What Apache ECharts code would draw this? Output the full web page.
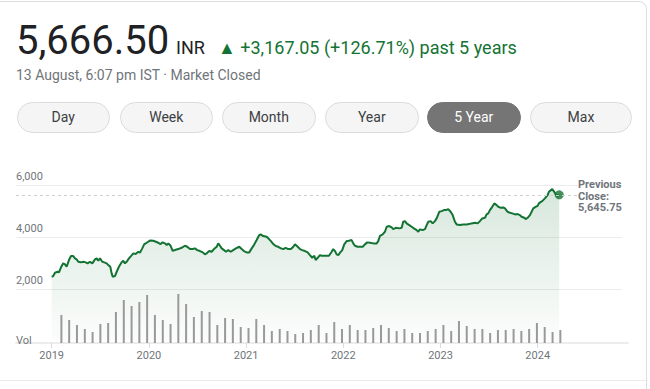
<!DOCTYPE html>
<html>
<head>
<meta charset="utf-8">
<script src="https://cdn.jsdelivr.net/npm/echarts@6/dist/echarts.min.js"></script>
<style>
  html, body { margin:0; padding:0; background:#fff; width:650px; height:389px; overflow:hidden; font-family: Roboto, Arial, sans-serif; }
  #card { position:absolute; left:-10px; top:1px; width:657px; height:420px; border:1px solid #dadce0; border-radius:8px; background:#fff; box-sizing:border-box; }
  #sep { position:absolute; left:0; top:380px; width:648px; height:1px; background:#ebebeb; }
  .t { position:absolute; white-space:nowrap; }
  #price { left:16px; top:21px; font-size:40px; line-height:40px; color:#202124; }
  #cur { left:176px; top:38px; font-size:18px; line-height:20px; color:#202124; }
  #chg { left:218px; top:38px; font-size:18px; line-height:20px; color:#137333; }
  #date { left:16px; top:67px; font-size:14px; line-height:16px; color:#70757a; }
  .btn { position:absolute; top:102px; height:31px; box-sizing:border-box; border:1px solid #dadce0; border-radius:16px; background:#f5f5f5; color:#3c4043; font-size:14px; line-height:29px; text-align:center; }
  .btn.on { background:#757575; border-color:#757575; color:#fff; }
  #chart { position:absolute; left:0; top:0; width:650px; height:389px; }
</style>
</head>
<body>
<div id="card"></div>
<div id="sep"></div>
<div class="t" id="price">5,666.50</div>
<div class="t" id="cur">INR</div>
<div class="t" id="chg">▲ +3,167.05 (+126.71%) past 5 years</div>
<div class="t" id="date">13 August, 6:07 pm IST · Market Closed</div>
<div class="btn" style="left:16.5px;width:93.5px">Day</div>
<div class="btn" style="left:119.5px;width:93.5px">Week</div>
<div class="btn" style="left:222px;width:93.5px">Month</div>
<div class="btn" style="left:325px;width:93.5px">Year</div>
<div class="btn on" style="left:427px;width:93.5px">5 Year</div>
<div class="btn" style="left:530px;width:102px">Max</div>
<div id="chart"></div>
<script>
// ---- data ----
const priceDates = [2019.000,2019.016,2019.034,2019.062,2019.075,2019.096,2019.119,2019.137,2019.154,2019.178,
2019.199,2019.222,2019.240,2019.257,2019.274,2019.301,2019.325,2019.350,2019.370,2019.394,
2019.418,2019.446,2019.463,2019.479,2019.497,2019.521,2019.541,2019.566,2019.582,2019.603,
2019.617,2019.628,2019.651,2019.669,2019.692,2019.720,2019.737,2019.754,2019.772,2019.795,
2019.816,2019.840,2019.864,2019.891,2019.908,2019.932,2019.953,2019.977,2020.011,2020.045,
2020.073,2020.097,2020.121,2020.142,2020.166,2020.183,2020.200,2020.224,2020.245,2020.269,
2020.302,2020.337,2020.371,2020.395,2020.423,2020.451,2020.474,2020.498,2020.526,2020.554,
2020.577,2020.595,2020.621,2020.646,2020.670,2020.698,2020.714,2020.732,2020.749,2020.773,
2020.793,2020.817,2020.842,2020.868,2020.896,2020.930,2020.955,2020.978,2021.006,2021.033,
2021.058,2021.081,2021.109,2021.136,2021.150,2021.177,2021.212,2021.236,2021.256,2021.280,
2021.305,2021.331,2021.359,2021.383,2021.407,2021.434,2021.462,2021.486,2021.503,2021.531,
2021.555,2021.578,2021.606,2021.634,2021.657,2021.681,2021.702,2021.716,2021.737,2021.760,
2021.778,2021.805,2021.829,2021.853,2021.881,2021.897,2021.915,2021.932,2021.949,2021.969,
2021.990,2022.010,2022.035,2022.059,2022.086,2022.103,2022.120,2022.148,2022.182,2022.200,
2022.223,2022.247,2022.275,2022.309,2022.344,2022.360,2022.378,2022.405,2022.429,2022.447,
2022.473,2022.498,2022.514,2022.542,2022.576,2022.601,2022.617,2022.635,2022.652,2022.679,
2022.704,2022.727,2022.755,2022.772,2022.789,2022.817,2022.841,2022.858,2022.875,2022.899,
2022.920,2022.943,2022.961,2022.988,2023.012,2023.036,2023.057,2023.080,2023.105,2023.126,
2023.149,2023.167,2023.201,2023.235,2023.270,2023.304,2023.321,2023.355,2023.383,2023.406,
2023.430,2023.458,2023.475,2023.492,2023.509,2023.533,2023.554,2023.578,2023.595,2023.622,
2023.646,2023.664,2023.691,2023.715,2023.739,2023.767,2023.794,2023.818,2023.835,2023.862,
2023.877,2023.897,2023.921,2023.938,2023.955,2023.979,2024.000,2024.013,2024.034,2024.047,
2024.075,2024.103,2024.116,2024.137,2024.150,2024.171,2024.185,2024.206,2024.222];

const priceValues = [2476,2503,2630,2669,2646,2839,2994,2955,2862,3121,
3276,3276,3187,3149,3056,3033,3056,3033,2994,3056,
2994,3149,3187,3094,3187,3056,3033,2994,2928,2862,
2607,2476,2503,2669,2862,3033,3094,2994,3056,3187,
3276,3381,3354,3443,3404,3574,3740,3791,3876,3868,
3829,3791,3740,3806,3767,3702,3767,3675,3481,3508,
3547,3597,3675,3636,3547,3547,3574,3508,3470,3419,
3342,3381,3470,3443,3547,3636,3767,3675,3574,3508,
3443,3508,3443,3508,3574,3636,3547,3470,3419,3419,
3574,3702,3895,4089,4116,4050,4023,3934,3856,3740,
3663,3636,3574,3547,3597,3547,3547,3636,3729,3636,
3547,3508,3470,3419,3315,3210,3288,3121,3210,3315,
3288,3288,3288,3288,3443,3547,3470,3342,3315,3419,
3508,3729,3856,3868,3895,3767,3675,3636,3636,3636,
3729,3806,3791,3767,3767,3856,4061,4116,4216,4410,
4437,4386,4321,4371,4348,4371,4603,4630,4541,4475,
4410,4348,4282,4216,4309,4282,4321,4475,4603,4630,
4541,4630,4734,4990,5017,5055,5055,5094,4990,4862,
4603,4502,4475,4502,4502,4526,4541,4564,4541,4630,
4734,4758,4889,4928,5055,5183,5315,5249,5183,5144,
5160,5121,4990,4951,4928,4889,4901,4862,4796,4758,
4707,4758,4862,4990,5121,5183,5222,5315,5377,5404,
5508,5636,5763,5829,5868,5763,5663,5609,5646];

const volDates = [2019.100,2019.180,2019.260,2019.341,2019.421,2019.501,2019.581,2019.661,2019.742,2019.822,
2019.902,2019.982,2020.062,2020.143,2020.223,2020.303,2020.383,2020.463,2020.544,2020.624,
2020.704,2020.784,2020.864,2020.945,2021.025,2021.105,2021.185,2021.265,2021.346,2021.426,
2021.506,2021.586,2021.666,2021.747,2021.827,2021.907,2021.987,2022.067,2022.148,2022.228,
2022.308,2022.388,2022.468,2022.549,2022.629,2022.709,2022.789,2022.869,2022.950,2023.030,
2023.110,2023.190,2023.270,2023.351,2023.431,2023.511,2023.591,2023.671,2023.752,2023.832,
2023.912,2023.992,2024.072,2024.153,2024.233];

const volValues = [28,23,18,14,11,19,20,31,43,37,
41,48,28,23,19,49,39,26,32,31,
18,25,24,16,15,24,18,12,14,12,
9,10,13,18,10,21,14,18,13,13,
15,18,15,12,14,10,10,12,14,18,
12,22,17,14,14,10,13,13,14,12,
14,20,16,11,13];

const yearTicks = [2019, 2020, 2021, 2022, 2023, 2024];
const priceTicks = [2000, 4000, 6000];
const prevClose = 5645.75;

// ---- chart ----
const green = '#137333';
const labelColor = '#70757a';
const priceData = priceDates.map((d, i) => [d, priceValues[i]]);
const volData = volDates.map((d, i) => [d, volValues[i]]);
const last = priceData[priceData.length - 1];

const chart = echarts.init(document.getElementById('chart'), null, { renderer: 'svg' });
chart.setOption({
  animation: false,
  backgroundColor: 'transparent',
  textStyle: { fontFamily: 'Roboto, Arial, sans-serif' },
  grid: [
    { left: 16, right: 28, top: 185.7, bottom: 48.3 },
    { left: 16, right: 22, top: 283, bottom: 46 }
  ],
  xAxis: [
    { type: 'value', gridIndex: 0, min: 2018.633, max: 2024.868, show: false },
    { type: 'value', gridIndex: 1, min: 2018.633, max: 2024.929,
      axisLine: { show: true, lineStyle: { color: '#ececec', width: 2 } },
      axisTick: { show: true, customValues: yearTicks, length: 5, lineStyle: { color: '#dadce0', width: 1 } },
      axisLabel: { customValues: yearTicks, formatter: v => String(Math.round(v)), color: labelColor, fontSize: 11, margin: 7 },
      splitLine: { show: false } }
  ],
  yAxis: [
    { type: 'value', gridIndex: 0, min: 0, max: 6000,
      axisLine: { show: false },
      axisTick: { show: false, customValues: priceTicks },
      axisLabel: { inside: true, customValues: priceTicks, margin: 0, color: labelColor, fontSize: 11,
        verticalAlign: 'bottom', lineHeight: 18,
        formatter: v => v.toLocaleString('en-US') },
      splitLine: { show: true, lineStyle: { color: '#ececec', width: 1 } } },
    { type: 'value', gridIndex: 1, min: 0, max: 60, interval: 60,
      axisLine: { show: false }, axisTick: { show: false },
      axisLabel: { inside: true, margin: 0, color: labelColor, fontSize: 11,
        verticalAlign: 'bottom', lineHeight: 6,
        formatter: v => (v === 0 ? 'Vol' : '') },
      splitLine: { show: false } }
  ],
  graphic: [
    { type: 'text', left: 578, top: 179, z: 10,
      style: { text: 'Previous\nClose:\n' + prevClose.toLocaleString('en-US', { minimumFractionDigits: 2 }),
        fill: labelColor, font: 'bold 11px Roboto, Arial, sans-serif', lineHeight: 11.5,
        backgroundColor: '#ffffff' } }
  ],
  series: [
    { type: 'line', xAxisIndex: 0, yAxisIndex: 0, data: priceData, showSymbol: false, z: 2,
      lineStyle: { color: green, width: 2 },
      areaStyle: { color: new echarts.graphic.LinearGradient(0, 0, 0, 1, [
        { offset: 0, color: 'rgba(19,115,51,0.24)' },
        { offset: 1, color: 'rgba(19,115,51,0.02)' }
      ]) },
      markLine: { silent: true, symbol: 'none', label: { show: false },
        lineStyle: { color: '#cfcfcf', type: [3, 3], width: 1 },
        data: [{ yAxis: prevClose }] } },
    { type: 'bar', xAxisIndex: 1, yAxisIndex: 1, data: volData, barWidth: 2, z: 3,
      itemStyle: { color: '#999999' } },
    { type: 'scatter', xAxisIndex: 0, yAxisIndex: 0, data: [last], symbolSize: 9, z: 4,
      itemStyle: { color: green } }
  ]
});
</script>
</body>
</html>
